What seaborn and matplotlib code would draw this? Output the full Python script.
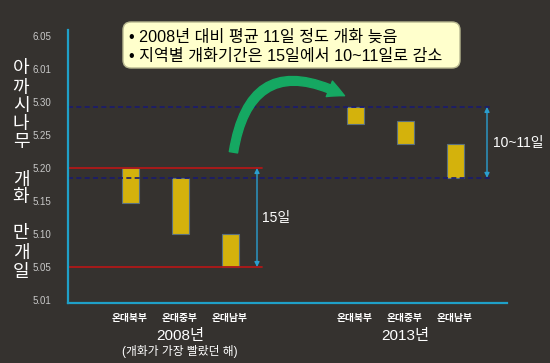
import matplotlib
matplotlib.use("Agg")
import matplotlib.pyplot as plt
import seaborn as sns
import pandas as pd
import numpy as np
from matplotlib.patches import FancyBboxPatch, FancyArrowPatch
from matplotlib.transforms import IdentityTransform

# ---- data ----
y_tick_labels = ["5.01", "5.05", "5.10", "5.15", "5.20", "5.25", "5.30", "6.01", "6.05"]
regions = ["온대북부", "온대중부", "온대남부"]
years = ["2008년", "2013년"]
# bloom period on the (equally spaced) date-tick scale: start (lower) and end (upper)
start_2008 = [2.95, 2.0, 1.0]
end_2008 = [4.0, 3.7, 2.0]
start_2013 = [5.32, 4.74, 3.7]
end_2013 = [5.85, 5.41, 4.74]
range_2008 = [1.0, 4.0]          # 5.05 .. 5.20 red lines
range_2013 = [3.7, 5.85]         # dashed navy lines
label_2008 = "15일"
label_2013 = "10~11일"
note_lines = ["• 2008년 대비 평균 11일 정도 개화 늦음",
              "• 지역별 개화기간은 15일에서 10~11일로 감소"]
ylabel_chars = ["아", "까", "시", "나", "무", "개", "화", "만", "개", "일"]
sub_2008 = "(개화가 가장 빨랐던 해)"

positions = [0, 1, 2, 4.5, 5.5, 6.5]

BG = "#35322f"
sns.set_theme(style="dark")
plt.rcParams["font.family"] = ["Liberation Sans", "Noto Sans CJK KR", "DejaVu Sans"]

df = pd.DataFrame({
    "pos": positions,
    "start": start_2008 + start_2013,
    "end": end_2008 + end_2013,
})
df["dur"] = df["end"] - df["start"]

fig = plt.figure(figsize=(5.5, 3.63), dpi=100, facecolor=BG)
W, H = 550, 363
ax = fig.add_axes([68 / W, 60 / H, (507 - 68) / W, (333 - 60) / H])
ax.set_facecolor(BG)

sns.barplot(data=df, x="pos", y="dur", bottom=df["start"].to_numpy(),
            native_scale=True, width=0.34, color="#d4b20c",
            edgecolor="#5a7080", linewidth=0.8, saturation=1, ax=ax,
            errorbar=None)

ax.set_xlim(-1.24, 7.54)
ax.set_ylim(-0.09, 8.18)

# reference lines
xr_end = (262 - 130) / 50
for yv in range_2008:
    ax.plot([-1.24, xr_end], [yv, yv], color="#b01818", lw=1.3, zorder=1)
xd_end = (493 - 130) / 50
for yv in range_2013:
    ax.plot([-1.24, xd_end], [yv, yv], color="#1a1a6e", lw=1.2, ls=(0, (3, 2)), zorder=1)

# double arrows
ax.annotate("", xy=(2.54, range_2008[0]), xytext=(2.54, range_2008[1]),
            arrowprops=dict(arrowstyle="<|-|>", color="#2a9fd0", lw=1, mutation_scale=7,
                            shrinkA=0, shrinkB=0))
ax.annotate("", xy=(7.14, range_2013[0]), xytext=(7.14, range_2013[1]),
            arrowprops=dict(arrowstyle="<|-|>", color="#2a9fd0", lw=1, mutation_scale=7,
                            shrinkA=0, shrinkB=0))
ax.text(2.64, 2.48, label_2008, color="white", fontsize=10, ha="left", va="center")
ax.text(7.26, 4.76, label_2013, color="white", fontsize=10, ha="left", va="center")

# axes styling
ax.set_yticks(range(len(y_tick_labels)))
ax.set_yticklabels(y_tick_labels)
ax.set_xticks(positions)
ax.set_xticklabels(regions + regions)
ax.tick_params(axis="y", length=0, pad=12, labelsize=7, labelcolor="#c8c8c8")
ax.tick_params(axis="x", length=0, pad=7, labelsize=7, labelcolor="white")
for lab in ax.get_xticklabels():
    lab.set_fontweight("bold")
ax.set_xlabel("")
ax.set_ylabel("")
ax.grid(False)
for s in ["top", "right"]:
    ax.spines[s].set_visible(False)
for s in ["left", "bottom"]:
    ax.spines[s].set_visible(True)
    ax.spines[s].set_color("#1fa0c8")
    ax.spines[s].set_linewidth(1.6)

# group labels
fig.text(180 / W, 1 - 336 / H, years[0], color="white", fontsize=11, ha="center", va="center")
fig.text(180 / W, 1 - 351 / H, sub_2008, color="white", fontsize=8.5, ha="center", va="center")
fig.text(405 / W, 1 - 336 / H, years[1], color="white", fontsize=11, ha="center", va="center")

# vertical y label
ys = [69, 88, 107, 125, 143, 180, 198, 233, 253, 272]
for ch, yy in zip(ylabel_chars, ys):
    fig.text(21 / W, 1 - yy / H, ch, color="white", fontsize=13, ha="center", va="center")

# note box
box = FancyBboxPatch((123, H - 68), 337, 46, boxstyle="round,pad=0,rounding_size=8",
                     transform=IdentityTransform(), facecolor="#ffffcc",
                     edgecolor="#b8b890", linewidth=1, zorder=5)
fig.patches.append(box)
fig.text(129 / W, 1 - 37 / H, note_lines[0], color="black", fontsize=11.6, ha="left",
         va="center", zorder=6)
fig.text(129 / W, 1 - 56 / H, note_lines[1], color="black", fontsize=11.6, ha="left",
         va="center", zorder=6)

# green curved arrow
arr = FancyArrowPatch((233, H - 155), (347, H - 97), transform=IdentityTransform(),
                      connectionstyle="arc3,rad=-0.7",
                      arrowstyle="simple,head_width=12,head_length=12,tail_width=6",
                      color="#15a862", zorder=4, mutation_scale=1)
fig.patches.append(arr)

fig.savefig("out.png", dpi=100, facecolor=BG)
